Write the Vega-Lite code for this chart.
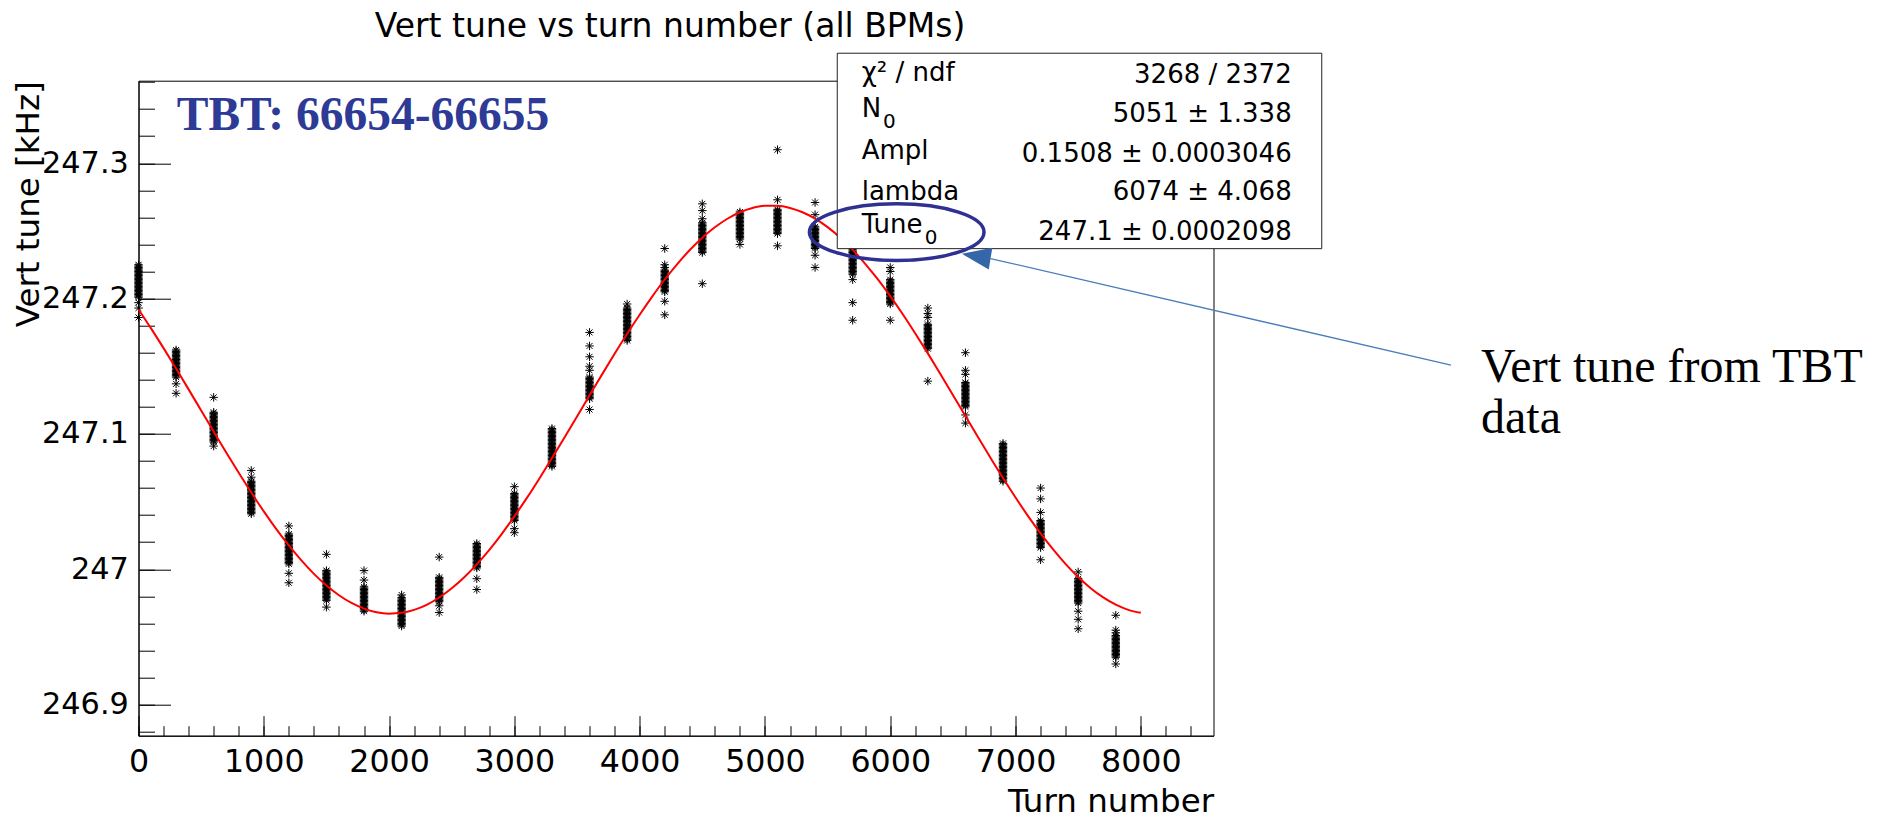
{
  "$schema": "https://vega.github.io/schema/vega-lite/v6.json",
  "width": 1075,
  "height": 655,
  "autosize": {"type": "none"},
  "padding": {"left": 138.5, "top": 80.7, "right": 671.5, "bottom": 83.3},
  "background": "white",
  "config": {
    "font": "DejaVu Sans",
    "view": {"stroke": "black", "strokeWidth": 1},
    "axis": {
      "grid": false,
      "labelColor": "black",
      "tickColor": "black",
      "domainColor": "black",
      "titleColor": "black",
      "labelFont": "DejaVu Sans",
      "titleFont": "DejaVu Sans",
      "titleFontWeight": "normal",
      "titleFontSize": 32.5,
      "tickWidth": 1,
      "domainWidth": 1,
      "labelOverlap": false,
      "labelFlush": false,
      "labelBound": false
    }
  },
  "datasets": {
    "bpm": [
      {"turn":0,"tune":247.201},{"turn":0,"tune":247.202},{"turn":0,"tune":247.203},{"turn":0,"tune":247.204},{"turn":0,"tune":247.205},{"turn":0,"tune":247.206},{"turn":0,"tune":247.207},{"turn":0,"tune":247.208},{"turn":0,"tune":247.209},{"turn":0,"tune":247.210},{"turn":0,"tune":247.211},{"turn":0,"tune":247.212},{"turn":0,"tune":247.213},{"turn":0,"tune":247.214},{"turn":0,"tune":247.215},{"turn":0,"tune":247.216},{"turn":0,"tune":247.217},{"turn":0,"tune":247.218},{"turn":0,"tune":247.219},{"turn":0,"tune":247.220},{"turn":0,"tune":247.221},{"turn":0,"tune":247.222},{"turn":0,"tune":247.223},{"turn":0,"tune":247.224},{"turn":0,"tune":247.225},{"turn":0,"tune":247.197},{"turn":0,"tune":247.193},{"turn":0,"tune":247.186},
      {"turn":300,"tune":247.142},{"turn":300,"tune":247.143},{"turn":300,"tune":247.144},{"turn":300,"tune":247.145},{"turn":300,"tune":247.146},{"turn":300,"tune":247.147},{"turn":300,"tune":247.148},{"turn":300,"tune":247.149},{"turn":300,"tune":247.150},{"turn":300,"tune":247.151},{"turn":300,"tune":247.152},{"turn":300,"tune":247.153},{"turn":300,"tune":247.154},{"turn":300,"tune":247.155},{"turn":300,"tune":247.156},{"turn":300,"tune":247.157},{"turn":300,"tune":247.158},{"turn":300,"tune":247.159},{"turn":300,"tune":247.160},{"turn":300,"tune":247.161},{"turn":300,"tune":247.162},{"turn":300,"tune":247.137},{"turn":300,"tune":247.130},
      {"turn":600,"tune":247.094},{"turn":600,"tune":247.095},{"turn":600,"tune":247.096},{"turn":600,"tune":247.097},{"turn":600,"tune":247.098},{"turn":600,"tune":247.099},{"turn":600,"tune":247.100},{"turn":600,"tune":247.101},{"turn":600,"tune":247.102},{"turn":600,"tune":247.103},{"turn":600,"tune":247.104},{"turn":600,"tune":247.105},{"turn":600,"tune":247.106},{"turn":600,"tune":247.107},{"turn":600,"tune":247.108},{"turn":600,"tune":247.109},{"turn":600,"tune":247.110},{"turn":600,"tune":247.111},{"turn":600,"tune":247.112},{"turn":600,"tune":247.113},{"turn":600,"tune":247.114},{"turn":600,"tune":247.115},{"turn":600,"tune":247.116},{"turn":600,"tune":247.127},{"turn":600,"tune":247.091},
      {"turn":900,"tune":247.041},{"turn":900,"tune":247.042},{"turn":900,"tune":247.043},{"turn":900,"tune":247.044},{"turn":900,"tune":247.045},{"turn":900,"tune":247.046},{"turn":900,"tune":247.047},{"turn":900,"tune":247.048},{"turn":900,"tune":247.049},{"turn":900,"tune":247.050},{"turn":900,"tune":247.051},{"turn":900,"tune":247.052},{"turn":900,"tune":247.053},{"turn":900,"tune":247.054},{"turn":900,"tune":247.055},{"turn":900,"tune":247.056},{"turn":900,"tune":247.057},{"turn":900,"tune":247.058},{"turn":900,"tune":247.059},{"turn":900,"tune":247.060},{"turn":900,"tune":247.061},{"turn":900,"tune":247.062},{"turn":900,"tune":247.063},{"turn":900,"tune":247.064},{"turn":900,"tune":247.065},{"turn":900,"tune":247.073},{"turn":900,"tune":247.068},
      {"turn":1200,"tune":247.004},{"turn":1200,"tune":247.005},{"turn":1200,"tune":247.006},{"turn":1200,"tune":247.007},{"turn":1200,"tune":247.008},{"turn":1200,"tune":247.009},{"turn":1200,"tune":247.010},{"turn":1200,"tune":247.011},{"turn":1200,"tune":247.012},{"turn":1200,"tune":247.013},{"turn":1200,"tune":247.014},{"turn":1200,"tune":247.015},{"turn":1200,"tune":247.016},{"turn":1200,"tune":247.017},{"turn":1200,"tune":247.018},{"turn":1200,"tune":247.019},{"turn":1200,"tune":247.020},{"turn":1200,"tune":247.021},{"turn":1200,"tune":247.022},{"turn":1200,"tune":247.023},{"turn":1200,"tune":247.024},{"turn":1200,"tune":247.025},{"turn":1200,"tune":247.026},{"turn":1200,"tune":247.032},{"turn":1200,"tune":246.997},{"turn":1200,"tune":246.990},
      {"turn":1500,"tune":246.977},{"turn":1500,"tune":246.978},{"turn":1500,"tune":246.979},{"turn":1500,"tune":246.980},{"turn":1500,"tune":246.981},{"turn":1500,"tune":246.982},{"turn":1500,"tune":246.983},{"turn":1500,"tune":246.984},{"turn":1500,"tune":246.985},{"turn":1500,"tune":246.986},{"turn":1500,"tune":246.987},{"turn":1500,"tune":246.988},{"turn":1500,"tune":246.989},{"turn":1500,"tune":246.990},{"turn":1500,"tune":246.991},{"turn":1500,"tune":246.992},{"turn":1500,"tune":246.993},{"turn":1500,"tune":246.994},{"turn":1500,"tune":246.995},{"turn":1500,"tune":246.996},{"turn":1500,"tune":246.997},{"turn":1500,"tune":246.998},{"turn":1500,"tune":246.999},{"turn":1500,"tune":247.011},{"turn":1500,"tune":246.972},
      {"turn":1800,"tune":246.969},{"turn":1800,"tune":246.970},{"turn":1800,"tune":246.971},{"turn":1800,"tune":246.972},{"turn":1800,"tune":246.973},{"turn":1800,"tune":246.974},{"turn":1800,"tune":246.975},{"turn":1800,"tune":246.976},{"turn":1800,"tune":246.977},{"turn":1800,"tune":246.978},{"turn":1800,"tune":246.979},{"turn":1800,"tune":246.980},{"turn":1800,"tune":246.981},{"turn":1800,"tune":246.982},{"turn":1800,"tune":246.983},{"turn":1800,"tune":246.984},{"turn":1800,"tune":246.985},{"turn":1800,"tune":246.986},{"turn":1800,"tune":246.987},{"turn":1800,"tune":246.999},{"turn":1800,"tune":246.992},
      {"turn":2100,"tune":246.958},{"turn":2100,"tune":246.959},{"turn":2100,"tune":246.960},{"turn":2100,"tune":246.961},{"turn":2100,"tune":246.962},{"turn":2100,"tune":246.963},{"turn":2100,"tune":246.964},{"turn":2100,"tune":246.965},{"turn":2100,"tune":246.966},{"turn":2100,"tune":246.967},{"turn":2100,"tune":246.968},{"turn":2100,"tune":246.969},{"turn":2100,"tune":246.970},{"turn":2100,"tune":246.971},{"turn":2100,"tune":246.972},{"turn":2100,"tune":246.973},{"turn":2100,"tune":246.974},{"turn":2100,"tune":246.975},{"turn":2100,"tune":246.976},{"turn":2100,"tune":246.977},{"turn":2100,"tune":246.978},{"turn":2100,"tune":246.979},{"turn":2100,"tune":246.981},
      {"turn":2400,"tune":246.976},{"turn":2400,"tune":246.977},{"turn":2400,"tune":246.978},{"turn":2400,"tune":246.979},{"turn":2400,"tune":246.980},{"turn":2400,"tune":246.981},{"turn":2400,"tune":246.982},{"turn":2400,"tune":246.983},{"turn":2400,"tune":246.984},{"turn":2400,"tune":246.985},{"turn":2400,"tune":246.986},{"turn":2400,"tune":246.987},{"turn":2400,"tune":246.988},{"turn":2400,"tune":246.989},{"turn":2400,"tune":246.990},{"turn":2400,"tune":246.991},{"turn":2400,"tune":246.992},{"turn":2400,"tune":246.993},{"turn":2400,"tune":246.994},{"turn":2400,"tune":247.009},{"turn":2400,"tune":246.973},{"turn":2400,"tune":246.968},
      {"turn":2700,"tune":247.001},{"turn":2700,"tune":247.002},{"turn":2700,"tune":247.003},{"turn":2700,"tune":247.004},{"turn":2700,"tune":247.005},{"turn":2700,"tune":247.006},{"turn":2700,"tune":247.007},{"turn":2700,"tune":247.008},{"turn":2700,"tune":247.009},{"turn":2700,"tune":247.010},{"turn":2700,"tune":247.011},{"turn":2700,"tune":247.012},{"turn":2700,"tune":247.013},{"turn":2700,"tune":247.014},{"turn":2700,"tune":247.015},{"turn":2700,"tune":247.016},{"turn":2700,"tune":247.017},{"turn":2700,"tune":247.018},{"turn":2700,"tune":247.019},{"turn":2700,"tune":246.993},{"turn":2700,"tune":246.985},
      {"turn":3000,"tune":247.036},{"turn":3000,"tune":247.037},{"turn":3000,"tune":247.038},{"turn":3000,"tune":247.039},{"turn":3000,"tune":247.040},{"turn":3000,"tune":247.041},{"turn":3000,"tune":247.042},{"turn":3000,"tune":247.043},{"turn":3000,"tune":247.044},{"turn":3000,"tune":247.045},{"turn":3000,"tune":247.046},{"turn":3000,"tune":247.047},{"turn":3000,"tune":247.048},{"turn":3000,"tune":247.049},{"turn":3000,"tune":247.050},{"turn":3000,"tune":247.051},{"turn":3000,"tune":247.052},{"turn":3000,"tune":247.053},{"turn":3000,"tune":247.054},{"turn":3000,"tune":247.055},{"turn":3000,"tune":247.056},{"turn":3000,"tune":247.061},{"turn":3000,"tune":247.030},{"turn":3000,"tune":247.027},
      {"turn":3300,"tune":247.076},{"turn":3300,"tune":247.077},{"turn":3300,"tune":247.078},{"turn":3300,"tune":247.079},{"turn":3300,"tune":247.080},{"turn":3300,"tune":247.081},{"turn":3300,"tune":247.082},{"turn":3300,"tune":247.083},{"turn":3300,"tune":247.084},{"turn":3300,"tune":247.085},{"turn":3300,"tune":247.086},{"turn":3300,"tune":247.087},{"turn":3300,"tune":247.088},{"turn":3300,"tune":247.089},{"turn":3300,"tune":247.090},{"turn":3300,"tune":247.091},{"turn":3300,"tune":247.092},{"turn":3300,"tune":247.093},{"turn":3300,"tune":247.094},{"turn":3300,"tune":247.095},{"turn":3300,"tune":247.096},{"turn":3300,"tune":247.097},{"turn":3300,"tune":247.098},{"turn":3300,"tune":247.099},{"turn":3300,"tune":247.100},{"turn":3300,"tune":247.101},{"turn":3300,"tune":247.102},{"turn":3300,"tune":247.103},{"turn":3300,"tune":247.104},
      {"turn":3600,"tune":247.126},{"turn":3600,"tune":247.127},{"turn":3600,"tune":247.128},{"turn":3600,"tune":247.129},{"turn":3600,"tune":247.130},{"turn":3600,"tune":247.131},{"turn":3600,"tune":247.132},{"turn":3600,"tune":247.133},{"turn":3600,"tune":247.134},{"turn":3600,"tune":247.135},{"turn":3600,"tune":247.136},{"turn":3600,"tune":247.137},{"turn":3600,"tune":247.138},{"turn":3600,"tune":247.139},{"turn":3600,"tune":247.140},{"turn":3600,"tune":247.141},{"turn":3600,"tune":247.142},{"turn":3600,"tune":247.175},{"turn":3600,"tune":247.165},{"turn":3600,"tune":247.157},{"turn":3600,"tune":247.150},{"turn":3600,"tune":247.147},{"turn":3600,"tune":247.118},
      {"turn":3900,"tune":247.169},{"turn":3900,"tune":247.170},{"turn":3900,"tune":247.171},{"turn":3900,"tune":247.172},{"turn":3900,"tune":247.173},{"turn":3900,"tune":247.174},{"turn":3900,"tune":247.175},{"turn":3900,"tune":247.176},{"turn":3900,"tune":247.177},{"turn":3900,"tune":247.178},{"turn":3900,"tune":247.179},{"turn":3900,"tune":247.180},{"turn":3900,"tune":247.181},{"turn":3900,"tune":247.182},{"turn":3900,"tune":247.183},{"turn":3900,"tune":247.184},{"turn":3900,"tune":247.185},{"turn":3900,"tune":247.186},{"turn":3900,"tune":247.187},{"turn":3900,"tune":247.188},{"turn":3900,"tune":247.189},{"turn":3900,"tune":247.190},{"turn":3900,"tune":247.191},{"turn":3900,"tune":247.192},{"turn":3900,"tune":247.193},{"turn":3900,"tune":247.196},
      {"turn":4200,"tune":247.205},{"turn":4200,"tune":247.206},{"turn":4200,"tune":247.207},{"turn":4200,"tune":247.208},{"turn":4200,"tune":247.209},{"turn":4200,"tune":247.210},{"turn":4200,"tune":247.211},{"turn":4200,"tune":247.212},{"turn":4200,"tune":247.213},{"turn":4200,"tune":247.214},{"turn":4200,"tune":247.215},{"turn":4200,"tune":247.216},{"turn":4200,"tune":247.217},{"turn":4200,"tune":247.218},{"turn":4200,"tune":247.219},{"turn":4200,"tune":247.220},{"turn":4200,"tune":247.221},{"turn":4200,"tune":247.237},{"turn":4200,"tune":247.225},{"turn":4200,"tune":247.223},{"turn":4200,"tune":247.198},{"turn":4200,"tune":247.188},
      {"turn":4500,"tune":247.234},{"turn":4500,"tune":247.235},{"turn":4500,"tune":247.236},{"turn":4500,"tune":247.237},{"turn":4500,"tune":247.238},{"turn":4500,"tune":247.239},{"turn":4500,"tune":247.240},{"turn":4500,"tune":247.241},{"turn":4500,"tune":247.242},{"turn":4500,"tune":247.243},{"turn":4500,"tune":247.244},{"turn":4500,"tune":247.245},{"turn":4500,"tune":247.246},{"turn":4500,"tune":247.247},{"turn":4500,"tune":247.248},{"turn":4500,"tune":247.249},{"turn":4500,"tune":247.250},{"turn":4500,"tune":247.251},{"turn":4500,"tune":247.252},{"turn":4500,"tune":247.253},{"turn":4500,"tune":247.254},{"turn":4500,"tune":247.255},{"turn":4500,"tune":247.256},{"turn":4500,"tune":247.270},{"turn":4500,"tune":247.265},{"turn":4500,"tune":247.259},{"turn":4500,"tune":247.211},
      {"turn":4800,"tune":247.244},{"turn":4800,"tune":247.245},{"turn":4800,"tune":247.246},{"turn":4800,"tune":247.247},{"turn":4800,"tune":247.248},{"turn":4800,"tune":247.249},{"turn":4800,"tune":247.250},{"turn":4800,"tune":247.251},{"turn":4800,"tune":247.252},{"turn":4800,"tune":247.253},{"turn":4800,"tune":247.254},{"turn":4800,"tune":247.255},{"turn":4800,"tune":247.256},{"turn":4800,"tune":247.257},{"turn":4800,"tune":247.258},{"turn":4800,"tune":247.259},{"turn":4800,"tune":247.260},{"turn":4800,"tune":247.261},{"turn":4800,"tune":247.262},{"turn":4800,"tune":247.263},{"turn":4800,"tune":247.264},{"turn":4800,"tune":247.240},
      {"turn":5100,"tune":247.248},{"turn":5100,"tune":247.249},{"turn":5100,"tune":247.250},{"turn":5100,"tune":247.251},{"turn":5100,"tune":247.252},{"turn":5100,"tune":247.253},{"turn":5100,"tune":247.254},{"turn":5100,"tune":247.255},{"turn":5100,"tune":247.256},{"turn":5100,"tune":247.257},{"turn":5100,"tune":247.258},{"turn":5100,"tune":247.259},{"turn":5100,"tune":247.260},{"turn":5100,"tune":247.261},{"turn":5100,"tune":247.262},{"turn":5100,"tune":247.263},{"turn":5100,"tune":247.264},{"turn":5100,"tune":247.265},{"turn":5100,"tune":247.266},{"turn":5100,"tune":247.310},{"turn":5100,"tune":247.273},{"turn":5100,"tune":247.239},
      {"turn":5400,"tune":247.237},{"turn":5400,"tune":247.238},{"turn":5400,"tune":247.239},{"turn":5400,"tune":247.240},{"turn":5400,"tune":247.241},{"turn":5400,"tune":247.242},{"turn":5400,"tune":247.243},{"turn":5400,"tune":247.244},{"turn":5400,"tune":247.245},{"turn":5400,"tune":247.246},{"turn":5400,"tune":247.247},{"turn":5400,"tune":247.248},{"turn":5400,"tune":247.249},{"turn":5400,"tune":247.250},{"turn":5400,"tune":247.251},{"turn":5400,"tune":247.252},{"turn":5400,"tune":247.253},{"turn":5400,"tune":247.271},{"turn":5400,"tune":247.262},{"turn":5400,"tune":247.232},{"turn":5400,"tune":247.223},
      {"turn":5700,"tune":247.218},{"turn":5700,"tune":247.219},{"turn":5700,"tune":247.220},{"turn":5700,"tune":247.221},{"turn":5700,"tune":247.222},{"turn":5700,"tune":247.223},{"turn":5700,"tune":247.224},{"turn":5700,"tune":247.225},{"turn":5700,"tune":247.226},{"turn":5700,"tune":247.227},{"turn":5700,"tune":247.228},{"turn":5700,"tune":247.229},{"turn":5700,"tune":247.230},{"turn":5700,"tune":247.231},{"turn":5700,"tune":247.232},{"turn":5700,"tune":247.233},{"turn":5700,"tune":247.234},{"turn":5700,"tune":247.235},{"turn":5700,"tune":247.236},{"turn":5700,"tune":247.237},{"turn":5700,"tune":247.238},{"turn":5700,"tune":247.239},{"turn":5700,"tune":247.240},{"turn":5700,"tune":247.258},{"turn":5700,"tune":247.244},{"turn":5700,"tune":247.214},{"turn":5700,"tune":247.197},{"turn":5700,"tune":247.184},
      {"turn":6000,"tune":247.196},{"turn":6000,"tune":247.197},{"turn":6000,"tune":247.198},{"turn":6000,"tune":247.199},{"turn":6000,"tune":247.200},{"turn":6000,"tune":247.201},{"turn":6000,"tune":247.202},{"turn":6000,"tune":247.203},{"turn":6000,"tune":247.204},{"turn":6000,"tune":247.205},{"turn":6000,"tune":247.206},{"turn":6000,"tune":247.207},{"turn":6000,"tune":247.208},{"turn":6000,"tune":247.209},{"turn":6000,"tune":247.210},{"turn":6000,"tune":247.211},{"turn":6000,"tune":247.212},{"turn":6000,"tune":247.213},{"turn":6000,"tune":247.214},{"turn":6000,"tune":247.223},{"turn":6000,"tune":247.220},{"turn":6000,"tune":247.184},
      {"turn":6300,"tune":247.163},{"turn":6300,"tune":247.164},{"turn":6300,"tune":247.165},{"turn":6300,"tune":247.166},{"turn":6300,"tune":247.167},{"turn":6300,"tune":247.168},{"turn":6300,"tune":247.169},{"turn":6300,"tune":247.170},{"turn":6300,"tune":247.171},{"turn":6300,"tune":247.172},{"turn":6300,"tune":247.173},{"turn":6300,"tune":247.174},{"turn":6300,"tune":247.175},{"turn":6300,"tune":247.176},{"turn":6300,"tune":247.177},{"turn":6300,"tune":247.178},{"turn":6300,"tune":247.179},{"turn":6300,"tune":247.180},{"turn":6300,"tune":247.181},{"turn":6300,"tune":247.193},{"turn":6300,"tune":247.189},{"turn":6300,"tune":247.186},{"turn":6300,"tune":247.139},
      {"turn":6600,"tune":247.120},{"turn":6600,"tune":247.121},{"turn":6600,"tune":247.122},{"turn":6600,"tune":247.123},{"turn":6600,"tune":247.124},{"turn":6600,"tune":247.125},{"turn":6600,"tune":247.126},{"turn":6600,"tune":247.127},{"turn":6600,"tune":247.128},{"turn":6600,"tune":247.129},{"turn":6600,"tune":247.130},{"turn":6600,"tune":247.131},{"turn":6600,"tune":247.132},{"turn":6600,"tune":247.133},{"turn":6600,"tune":247.134},{"turn":6600,"tune":247.135},{"turn":6600,"tune":247.136},{"turn":6600,"tune":247.137},{"turn":6600,"tune":247.138},{"turn":6600,"tune":247.160},{"turn":6600,"tune":247.147},{"turn":6600,"tune":247.144},{"turn":6600,"tune":247.114},{"turn":6600,"tune":247.108},
      {"turn":6900,"tune":247.065},{"turn":6900,"tune":247.066},{"turn":6900,"tune":247.067},{"turn":6900,"tune":247.068},{"turn":6900,"tune":247.069},{"turn":6900,"tune":247.070},{"turn":6900,"tune":247.071},{"turn":6900,"tune":247.072},{"turn":6900,"tune":247.073},{"turn":6900,"tune":247.074},{"turn":6900,"tune":247.075},{"turn":6900,"tune":247.076},{"turn":6900,"tune":247.077},{"turn":6900,"tune":247.078},{"turn":6900,"tune":247.079},{"turn":6900,"tune":247.080},{"turn":6900,"tune":247.081},{"turn":6900,"tune":247.082},{"turn":6900,"tune":247.083},{"turn":6900,"tune":247.084},{"turn":6900,"tune":247.085},{"turn":6900,"tune":247.086},{"turn":6900,"tune":247.087},{"turn":6900,"tune":247.088},{"turn":6900,"tune":247.089},{"turn":6900,"tune":247.090},{"turn":6900,"tune":247.091},{"turn":6900,"tune":247.092},{"turn":6900,"tune":247.093},
      {"turn":7200,"tune":247.016},{"turn":7200,"tune":247.017},{"turn":7200,"tune":247.018},{"turn":7200,"tune":247.019},{"turn":7200,"tune":247.020},{"turn":7200,"tune":247.021},{"turn":7200,"tune":247.022},{"turn":7200,"tune":247.023},{"turn":7200,"tune":247.024},{"turn":7200,"tune":247.025},{"turn":7200,"tune":247.026},{"turn":7200,"tune":247.027},{"turn":7200,"tune":247.028},{"turn":7200,"tune":247.029},{"turn":7200,"tune":247.030},{"turn":7200,"tune":247.031},{"turn":7200,"tune":247.032},{"turn":7200,"tune":247.033},{"turn":7200,"tune":247.034},{"turn":7200,"tune":247.035},{"turn":7200,"tune":247.036},{"turn":7200,"tune":247.060},{"turn":7200,"tune":247.052},{"turn":7200,"tune":247.042},{"turn":7200,"tune":247.007},
      {"turn":7500,"tune":246.975},{"turn":7500,"tune":246.976},{"turn":7500,"tune":246.977},{"turn":7500,"tune":246.978},{"turn":7500,"tune":246.979},{"turn":7500,"tune":246.980},{"turn":7500,"tune":246.981},{"turn":7500,"tune":246.982},{"turn":7500,"tune":246.983},{"turn":7500,"tune":246.984},{"turn":7500,"tune":246.985},{"turn":7500,"tune":246.986},{"turn":7500,"tune":246.987},{"turn":7500,"tune":246.988},{"turn":7500,"tune":246.989},{"turn":7500,"tune":246.990},{"turn":7500,"tune":246.991},{"turn":7500,"tune":246.992},{"turn":7500,"tune":246.993},{"turn":7500,"tune":246.998},{"turn":7500,"tune":246.969},{"turn":7500,"tune":246.963},{"turn":7500,"tune":246.956},
      {"turn":7800,"tune":246.935},{"turn":7800,"tune":246.936},{"turn":7800,"tune":246.937},{"turn":7800,"tune":246.938},{"turn":7800,"tune":246.939},{"turn":7800,"tune":246.940},{"turn":7800,"tune":246.941},{"turn":7800,"tune":246.942},{"turn":7800,"tune":246.943},{"turn":7800,"tune":246.944},{"turn":7800,"tune":246.945},{"turn":7800,"tune":246.946},{"turn":7800,"tune":246.947},{"turn":7800,"tune":246.948},{"turn":7800,"tune":246.949},{"turn":7800,"tune":246.950},{"turn":7800,"tune":246.951},{"turn":7800,"tune":246.966},{"turn":7800,"tune":246.955},{"turn":7800,"tune":246.953},{"turn":7800,"tune":246.930}
    ],
    "fit": [
      {"turn":0,"tune":247.1920},{"turn":100,"tune":247.1780},{"turn":200,"tune":247.1634},{"turn":300,"tune":247.1483},{"turn":400,"tune":247.1329},{"turn":500,"tune":247.1173},{"turn":600,"tune":247.1017},{"turn":700,"tune":247.0863},{"turn":800,"tune":247.0713},{"turn":900,"tune":247.0567},
      {"turn":1000,"tune":247.0428},{"turn":1100,"tune":247.0297},{"turn":1200,"tune":247.0176},{"turn":1300,"tune":247.0065},{"turn":1400,"tune":246.9966},{"turn":1500,"tune":246.9880},{"turn":1600,"tune":246.9808},{"turn":1700,"tune":246.9751},{"turn":1800,"tune":246.9709},{"turn":1900,"tune":246.9682},
      {"turn":2000,"tune":246.9672},{"turn":2100,"tune":246.9678},{"turn":2200,"tune":246.9700},{"turn":2300,"tune":246.9737},{"turn":2400,"tune":246.9791},{"turn":2500,"tune":246.9859},{"turn":2600,"tune":246.9941},{"turn":2700,"tune":247.0036},{"turn":2800,"tune":247.0143},{"turn":2900,"tune":247.0262},
      {"turn":3000,"tune":247.0391},{"turn":3100,"tune":247.0527},{"turn":3200,"tune":247.0671},{"turn":3300,"tune":247.0821},{"turn":3400,"tune":247.0974},{"turn":3500,"tune":247.1129},{"turn":3600,"tune":247.1285},{"turn":3700,"tune":247.1440},{"turn":3800,"tune":247.1592},{"turn":3900,"tune":247.1740},
      {"turn":4000,"tune":247.1881},{"turn":4100,"tune":247.2015},{"turn":4200,"tune":247.2141},{"turn":4300,"tune":247.2255},{"turn":4400,"tune":247.2359},{"turn":4500,"tune":247.2450},{"turn":4600,"tune":247.2527},{"turn":4700,"tune":247.2590},{"turn":4800,"tune":247.2638},{"turn":4900,"tune":247.2670},
      {"turn":5000,"tune":247.2686},{"turn":5100,"tune":247.2686},{"turn":5200,"tune":247.2670},{"turn":5300,"tune":247.2638},{"turn":5400,"tune":247.2591},{"turn":5500,"tune":247.2528},{"turn":5600,"tune":247.2451},{"turn":5700,"tune":247.2361},{"turn":5800,"tune":247.2257},{"turn":5900,"tune":247.2143},
      {"turn":6000,"tune":247.2018},{"turn":6100,"tune":247.1884},{"turn":6200,"tune":247.1742},{"turn":6300,"tune":247.1595},{"turn":6400,"tune":247.1443},{"turn":6500,"tune":247.1288},{"turn":6600,"tune":247.1132},{"turn":6700,"tune":247.0977},{"turn":6800,"tune":247.0824},{"turn":6900,"tune":247.0674},
      {"turn":7000,"tune":247.0530},{"turn":7100,"tune":247.0393},{"turn":7200,"tune":247.0265},{"turn":7300,"tune":247.0146},{"turn":7400,"tune":247.0038},{"turn":7500,"tune":246.9943},{"turn":7600,"tune":246.9860},{"turn":7700,"tune":246.9792},{"turn":7800,"tune":246.9738},{"turn":7900,"tune":246.9700},
      {"turn":8000,"tune":246.9678}
    ]
  },
  "layer": [
    {
      "data": {"name": "bpm"},
      "mark": {
        "type": "point",
        "shape": "M-1,0L1,0M0,-1L0,1M-0.7,-0.7L0.7,0.7M-0.7,0.7L0.7,-0.7",
        "filled": false,
        "stroke": "black",
        "strokeWidth": 1,
        "size": 72,
        "opacity": 1
      },
      "encoding": {
        "x": {
          "field": "turn",
          "type": "quantitative",
          "scale": {"domain": [0, 8580], "nice": false, "zero": false},
          "axis": {
            "orient": "bottom",
            "values": [0, 1000, 2000, 3000, 4000, 5000, 6000, 7000, 8000],
            "format": "d",
            "tickSize": -20,
            "labelPadding": 30.6,
            "labelFontSize": 31.7,
            "title": "Turn number",
            "titleX": 1075,
            "titleY": 75.5,
            "titleAlign": "right",
            "titleBaseline": "alphabetic",
            "titleAngle": 0
          }
        },
        "y": {
          "field": "tune",
          "type": "quantitative",
          "scale": {"domain": [246.877, 247.361], "nice": false, "zero": false},
          "axis": {
            "orient": "left",
            "values": [246.9, 247, 247.1, 247.2, 247.3],
            "format": ".1~f",
            "tickSize": -32,
            "labelPadding": 42.2,
            "labelFontSize": 30.3,
            "title": "Vert tune [kHz]",
            "titleX": -100,
            "titleY": 0,
            "titleAngle": 270,
            "titleAlign": "right",
            "titleBaseline": "alphabetic"
          }
        }
      }
    },
    {
      "data": {"name": "fit"},
      "mark": {"type": "line", "color": "#ff0000", "strokeWidth": 2, "interpolate": "monotone"},
      "encoding": {
        "x": {
          "field": "turn",
          "type": "quantitative",
          "scale": {"domain": [0, 8580], "nice": false, "zero": false},
          "axis": {
            "orient": "bottom",
            "values": [0, 200, 400, 600, 800, 1000, 1200, 1400, 1600, 1800, 2000, 2200, 2400, 2600, 2800, 3000, 3200, 3400, 3600, 3800, 4000, 4200, 4400, 4600, 4800, 5000, 5200, 5400, 5600, 5800, 6000, 6200, 6400, 6600, 6800, 7000, 7200, 7400, 7600, 7800, 8000, 8200, 8400],
            "tickSize": -10,
            "labels": false,
            "domain": false,
            "title": null
          }
        },
        "y": {
          "field": "tune",
          "type": "quantitative",
          "scale": {"domain": [246.877, 247.361], "nice": false, "zero": false},
          "axis": {
            "orient": "left",
            "values": [246.88, 246.9, 246.92, 246.94, 246.96, 246.98, 247, 247.02, 247.04, 247.06, 247.08, 247.1, 247.12, 247.14, 247.16, 247.18, 247.2, 247.22, 247.24, 247.26, 247.28, 247.3, 247.32, 247.34, 247.36],
            "tickSize": -16,
            "labels": false,
            "domain": false,
            "title": null
          }
        }
      }
    },
    {
      "data": {"values": [{}]},
      "mark": {"type": "text", "fontSize": 33, "color": "black", "align": "center", "baseline": "alphabetic"},
      "encoding": {
        "x": {"datum": 4242, "type": "quantitative", "axis": null},
        "y": {"datum": 247.3936, "type": "quantitative", "axis": null},
        "text": {"value": "Vert tune vs turn number (all BPMs)"}
      }
    },
    {
      "data": {"values": [{}]},
      "mark": {"type": "text", "font": "Liberation Serif", "fontWeight": "bold", "fontSize": 47.5, "color": "#2d3a96", "align": "left", "baseline": "alphabetic"},
      "encoding": {
        "x": {"datum": 305, "type": "quantitative", "axis": null},
        "y": {"datum": 247.3249, "type": "quantitative", "axis": null},
        "text": {"value": "TBT: 66654-66655"}
      }
    },
    {
      "data": {"values": [{}]},
      "mark": {"type": "rect", "fill": "white", "stroke": "#222222", "strokeWidth": 1},
      "encoding": {
        "x": {"datum": 5577, "type": "quantitative", "axis": null},
        "x2": {"datum": 9444},
        "y": {"datum": 247.3813, "type": "quantitative", "axis": null},
        "y2": {"datum": 247.2369}
      }
    },
    {
      "data": {"values": [{}]},
      "mark": {"type": "text", "fontSize": 26, "color": "black", "align": "left", "baseline": "alphabetic"},
      "encoding": {
        "x": {"datum": 5772, "type": "quantitative", "axis": null},
        "y": {"datum": 247.3611, "type": "quantitative", "axis": null},
        "text": {"value": "χ² / ndf"}
      }
    },
    {
      "data": {"values": [{}]},
      "mark": {"type": "text", "fontSize": 26, "color": "black", "align": "left", "baseline": "alphabetic"},
      "encoding": {
        "x": {"datum": 5772, "type": "quantitative", "axis": null},
        "y": {"datum": 247.3345, "type": "quantitative", "axis": null},
        "text": {"value": "N"}
      }
    },
    {
      "data": {"values": [{}]},
      "mark": {"type": "text", "fontSize": 20, "color": "black", "align": "left", "baseline": "alphabetic"},
      "encoding": {
        "x": {"datum": 5942, "type": "quantitative", "axis": null},
        "y": {"datum": 247.3262, "type": "quantitative", "axis": null},
        "text": {"value": "0"}
      }
    },
    {
      "data": {"values": [{}]},
      "mark": {"type": "text", "fontSize": 26, "color": "black", "align": "left", "baseline": "alphabetic"},
      "encoding": {
        "x": {"datum": 5772, "type": "quantitative", "axis": null},
        "y": {"datum": 247.3033, "type": "quantitative", "axis": null},
        "text": {"value": "Ampl"}
      }
    },
    {
      "data": {"values": [{}]},
      "mark": {"type": "text", "fontSize": 26, "color": "black", "align": "left", "baseline": "alphabetic"},
      "encoding": {
        "x": {"datum": 5772, "type": "quantitative", "axis": null},
        "y": {"datum": 247.2731, "type": "quantitative", "axis": null},
        "text": {"value": "lambda"}
      }
    },
    {
      "data": {"values": [{}]},
      "mark": {"type": "text", "fontSize": 26, "color": "black", "align": "left", "baseline": "alphabetic"},
      "encoding": {
        "x": {"datum": 5772, "type": "quantitative", "axis": null},
        "y": {"datum": 247.2482, "type": "quantitative", "axis": null},
        "text": {"value": "Tune"}
      }
    },
    {
      "data": {"values": [{}]},
      "mark": {"type": "text", "fontSize": 20, "color": "black", "align": "left", "baseline": "alphabetic"},
      "encoding": {
        "x": {"datum": 6275, "type": "quantitative", "axis": null},
        "y": {"datum": 247.2401, "type": "quantitative", "axis": null},
        "text": {"value": "0"}
      }
    },
    {
      "data": {"values": [{}]},
      "mark": {"type": "text", "fontSize": 26, "color": "black", "align": "right", "baseline": "alphabetic"},
      "encoding": {
        "x": {"datum": 9204, "type": "quantitative", "axis": null},
        "y": {"datum": 247.3591, "type": "quantitative", "axis": null},
        "text": {"value": "3268 / 2372"}
      }
    },
    {
      "data": {"values": [{}]},
      "mark": {"type": "text", "fontSize": 26, "color": "black", "align": "right", "baseline": "alphabetic"},
      "encoding": {
        "x": {"datum": 9204, "type": "quantitative", "axis": null},
        "y": {"datum": 247.3303, "type": "quantitative", "axis": null},
        "text": {"value": "5051 ± 1.338"}
      }
    },
    {
      "data": {"values": [{}]},
      "mark": {"type": "text", "fontSize": 26, "color": "black", "align": "right", "baseline": "alphabetic"},
      "encoding": {
        "x": {"datum": 9204, "type": "quantitative", "axis": null},
        "y": {"datum": 247.3008, "type": "quantitative", "axis": null},
        "text": {"value": "0.1508 ± 0.0003046"}
      }
    },
    {
      "data": {"values": [{}]},
      "mark": {"type": "text", "fontSize": 26, "color": "black", "align": "right", "baseline": "alphabetic"},
      "encoding": {
        "x": {"datum": 9204, "type": "quantitative", "axis": null},
        "y": {"datum": 247.2725, "type": "quantitative", "axis": null},
        "text": {"value": "6074 ± 4.068"}
      }
    },
    {
      "data": {"values": [{}]},
      "mark": {"type": "text", "fontSize": 26, "color": "black", "align": "right", "baseline": "alphabetic"},
      "encoding": {
        "x": {"datum": 9204, "type": "quantitative", "axis": null},
        "y": {"datum": 247.2430, "type": "quantitative", "axis": null},
        "text": {"value": "247.1 ± 0.0002098"}
      }
    },
    {
      "data": {"values": [{}]},
      "mark": {
        "type": "point",
        "shape": "M-1,0C-1,-0.179,-0.552,-0.324,0,-0.324C0.552,-0.324,1,-0.179,1,0C1,0.179,0.552,0.324,0,0.324C-0.552,0.324,-1,0.179,-1,0Z",
        "filled": false,
        "stroke": "#2e3192",
        "strokeWidth": 3.5,
        "size": 30485,
        "opacity": 1
      },
      "encoding": {
        "x": {"datum": 6051.5, "type": "quantitative", "axis": null},
        "y": {"datum": 247.2491, "type": "quantitative", "axis": null}
      }
    },
    {
      "data": {"values": [{}]},
      "mark": {"type": "rule", "stroke": "#4a7ebb", "strokeWidth": 1.3},
      "encoding": {
        "x": {"datum": 6800.2, "type": "quantitative", "axis": null},
        "y": {"datum": 247.2296, "type": "quantitative", "axis": null},
        "x2": {"datum": 10475.5},
        "y2": {"datum": 247.1508}
      }
    },
    {
      "data": {"values": [{}]},
      "mark": {
        "type": "point",
        "shape": "M-1,0L1,-0.76L1,0.76Z",
        "filled": true,
        "fill": "#3566a8",
        "strokeWidth": 0,
        "size": 841,
        "angle": 9.4,
        "opacity": 1
      },
      "encoding": {
        "x": {"datum": 6686.4, "type": "quantitative", "axis": null},
        "y": {"datum": 247.2313, "type": "quantitative", "axis": null}
      }
    },
    {
      "data": {"values": [{}]},
      "mark": {"type": "text", "font": "Liberation Serif", "fontSize": 48, "color": "black", "align": "left", "baseline": "alphabetic", "lineBreak": "\n", "lineHeight": 51.6},
      "encoding": {
        "x": {"datum": 10715, "type": "quantitative", "axis": null},
        "y": {"datum": 247.1385, "type": "quantitative", "axis": null},
        "text": {"value": "Vert tune from TBT\ndata"}
      }
    }
  ],
  "resolve": {"axis": {"x": "independent", "y": "independent"}}
}
